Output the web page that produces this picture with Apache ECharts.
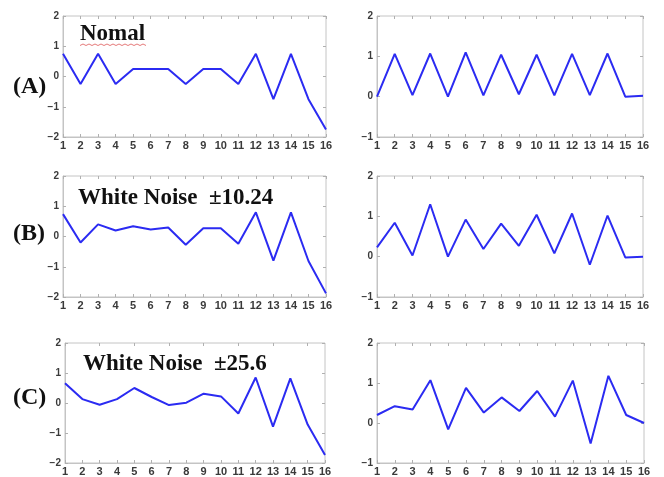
<!DOCTYPE html>
<html>
<head>
<meta charset="utf-8">
<script src="https://cdn.jsdelivr.net/npm/echarts@6/dist/echarts.min.js"></script>
<style>
  html, body { margin: 0; padding: 0; background: #fff; }
  #chart { width: 664px; height: 477px; }
</style>
</head>
<body>
<div id="chart"></div>
<script>
// Sample index along the horizontal axis
const xLabels = ['1','2','3','4','5','6','7','8','9','10','11','12','13','14','15','16'];

// Row A: no noise
const normalLeft  = [0.75, -0.25, 0.75, -0.25, 0.25, 0.25, 0.25, -0.25, 0.25, 0.25, -0.25, 0.75, -0.75, 0.75, -0.75, -1.75];
const normalRight = [0.0, 1.06, 0.04, 1.07, 0.0, 1.1, 0.03, 1.04, 0.06, 1.04, 0.03, 1.06, 0.04, 1.07, 0.0, 0.02];

// Row B: white noise ±10.24
const noiseBLeft  = [0.74, -0.2, 0.4, 0.2, 0.34, 0.23, 0.3, -0.27, 0.27, 0.27, -0.24, 0.8, -0.8, 0.8, -0.81, -1.88];
const noiseBRight = [0.23, 0.84, 0.03, 1.3, 0.0, 0.92, 0.19, 0.82, 0.27, 1.04, 0.08, 1.07, -0.2, 1.02, -0.02, 0.0];

// Row C: white noise ±25.6
const noiseCLeft  = [0.66, 0.13, -0.06, 0.13, 0.5, 0.2, -0.07, 0.01, 0.31, 0.22, -0.35, 0.85, -0.79, 0.82, -0.72, -1.73];
const noiseCRight = [0.2, 0.42, 0.34, 1.07, -0.16, 0.88, 0.26, 0.64, 0.3, 0.8, 0.16, 1.06, -0.51, 1.18, 0.2, 0.0];

// Y ranges of the two columns
const leftRange  = [-2, 2];
const rightRange = [-1, 2];

// Row tags and in-plot captions
const rowTags   = ['(A)', '(B)', '(C)'];
const rowTitles = ['Nomal', 'White Noise  \u00B110.24', 'White Noise  \u00B125.6'];

const panels = [
  { data: normalLeft,  range: leftRange,  box: { left: 63,  top: 16,  width: 263, height: 121 } },
  { data: normalRight, range: rightRange, box: { left: 377, top: 16,  width: 266, height: 121 } },
  { data: noiseBLeft,  range: leftRange,  box: { left: 63,  top: 176, width: 263, height: 121 } },
  { data: noiseBRight, range: rightRange, box: { left: 377, top: 176, width: 266, height: 121 } },
  { data: noiseCLeft,  range: leftRange,  box: { left: 65,  top: 343, width: 260, height: 120 } },
  { data: noiseCRight, range: rightRange, box: { left: 377, top: 343, width: 267, height: 121 } }
];

const frameColor = '#c4c4c4';
const labelColor = '#3a3a3a';
const lineColor  = '#2b2bf2';

const grid = [], xAxis = [], yAxis = [], series = [];

panels.forEach((p, i) => {
  grid.push(Object.assign({
    show: true, borderColor: frameColor, borderWidth: 1, backgroundColor: '#fff', containLabel: false
  }, p.box));

  const tickStyle = { show: true, inside: true, length: 3, lineStyle: { color: '#b0b0b0', width: 1 } };

  // bottom axis with labels, top axis with inward ticks only
  xAxis.push({
    type: 'category', gridIndex: i, data: xLabels, boundaryGap: false, position: 'bottom',
    axisLine: { show: true, onZero: false, lineStyle: { color: frameColor } },
    axisTick: tickStyle,
    axisLabel: { interval: 0, margin: 3, fontSize: 11, fontWeight: 'bold', color: labelColor, fontFamily: 'Liberation Sans' },
    splitLine: { show: false }
  });
  xAxis.push({
    type: 'category', gridIndex: i, data: xLabels, boundaryGap: false, position: 'top',
    axisLine: { show: false, onZero: false }, axisTick: tickStyle, axisLabel: { show: false }, splitLine: { show: false }
  });

  // left axis with labels, right axis with inward ticks only
  yAxis.push({
    type: 'value', gridIndex: i, min: p.range[0], max: p.range[1], interval: 1, position: 'left',
    axisLine: { show: true, onZero: false, lineStyle: { color: frameColor } },
    axisTick: tickStyle,
    axisLabel: {
      margin: 4, fontSize: 10, fontWeight: 'bold', color: labelColor, fontFamily: 'Liberation Sans',
      formatter: v => String(v).replace('-', '\u2212')
    },
    splitLine: { show: false }
  });
  yAxis.push({
    type: 'value', gridIndex: i, min: p.range[0], max: p.range[1], interval: 1, position: 'right',
    axisLine: { show: false, onZero: false }, axisTick: tickStyle, axisLabel: { show: false }, splitLine: { show: false }
  });

  series.push({
    type: 'line', xAxisIndex: 2 * i, yAxisIndex: 2 * i, data: p.data,
    showSymbol: false, symbol: 'none', silent: true,
    lineStyle: { color: lineColor, width: 2 }
  });
});

// Row tags on the far left and captions inside the left plots
const tagPos   = [{ x: 13, y: 87 }, { x: 13, y: 234 }, { x: 13, y: 398 }];
const titlePos = [{ x: 80, y: 34 }, { x: 78, y: 198 }, { x: 83, y: 364 }];

const graphic = [];
rowTags.forEach((t, i) => {
  graphic.push({
    type: 'text', z: 10, x: tagPos[i].x, y: tagPos[i].y,
    style: { text: t, font: 'bold 24px "Liberation Serif"', fill: '#111', verticalAlign: 'middle' }
  });
});
rowTitles.forEach((t, i) => {
  graphic.push({
    type: 'text', z: 10, x: titlePos[i].x, y: titlePos[i].y,
    style: { text: t, font: 'bold 23px "Liberation Serif"', fill: '#111', verticalAlign: 'middle' }
  });
});

// wavy red underline beneath the first caption
const wave = [];
for (let k = 0; k <= 22; k++) wave.push([80 + k * 3, 44 + (k % 2 ? 0 : 1.5)]);
graphic.push({
  type: 'polyline', z: 10, shape: { points: wave },
  style: { stroke: '#e57a7a', lineWidth: 1, fill: null }
});

const chart = echarts.init(document.getElementById('chart'), null, { renderer: 'canvas' });
chart.setOption({
  animation: false,
  backgroundColor: '#fff',
  grid, xAxis, yAxis, series, graphic
});
</script>
</body>
</html>
